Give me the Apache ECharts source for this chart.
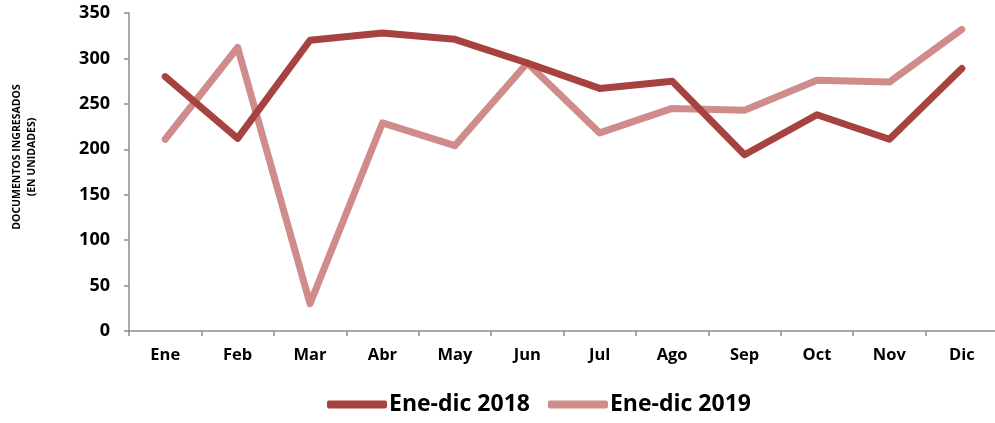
<!DOCTYPE html>
<html lang="es">
<head>
<meta charset="UTF-8">
<title>Documentos ingresados</title>
<script src="https://cdn.jsdelivr.net/npm/echarts@6/dist/echarts.min.js"></script>
<style>
  html, body { margin: 0; padding: 0; background: #fff; }
  #chart { width: 995px; height: 423px; }
</style>
</head>
<body>
<div id="chart"></div>
<script>
// data
const months = ['Ene', 'Feb', 'Mar', 'Abr', 'May', 'Jun', 'Jul', 'Ago', 'Sep', 'Oct', 'Nov', 'Dic'];
const docs2018 = [280, 212, 320, 328, 321, 295, 267, 275, 194, 238, 211, 289];
const docs2019 = [211, 312, 30, 229, 204, 295, 218, 245, 243, 276, 274, 332];

const font = '"Open Sans", "Noto Sans", sans-serif';
const axisGray = '#8c8c8c';

const chart = echarts.init(document.getElementById('chart'));

chart.setOption({
    animation: false,
    textStyle: { fontFamily: font },
    grid: { left: 129, top: 13, width: 869, height: 318, containLabel: false, outerBoundsMode: 'none' },
    legend: {
        bottom: 2,
        left: 322,
        itemWidth: 60,
        itemHeight: 8,
        itemGap: 18,
        icon: 'roundRect',
        textStyle: { fontSize: 23, fontWeight: 'bold', color: '#000', fontFamily: font, padding: [0, 0, 0, -3] },
        data: ['Ene-dic 2018', 'Ene-dic 2019']
    },
    graphic: [{
        type: 'text',
        x: 25,
        y: 157,
        rotation: Math.PI / 2,
        style: {
            text: 'DOCUMENTOS INGRESADOS\n(EN UNIDADES)',
            fontSize: 10.5,
            fontWeight: 'bold',
            fontFamily: font,
            fill: '#000',
            lineHeight: 15,
            align: 'center',
            verticalAlign: 'middle'
        }
    }],
    xAxis: {
        type: 'category',
        data: months,
        boundaryGap: true,
        axisLine: { lineStyle: { color: axisGray, width: 1.5 } },
        axisTick: { show: true, length: 5, lineStyle: { color: axisGray, width: 1.5 } },
        axisLabel: { fontSize: 16.5, fontWeight: 'bold', color: '#000', margin: 16 }
    },
    yAxis: {
        type: 'value',
        min: 0,
        max: 350,
        interval: 50,
        axisLine: { show: true, lineStyle: { color: axisGray, width: 1.5 } },
        axisTick: { show: true, length: 5, lineStyle: { color: axisGray, width: 1.5 } },
        splitLine: { show: false },
        axisLabel: { fontSize: 18, fontWeight: 'bold', color: '#000', margin: 19 }
    },
    series: [
        {
            name: 'Ene-dic 2018',
            type: 'line',
            data: docs2018,
            symbol: 'none',
            color: '#a6423f',
            lineStyle: { width: 7, cap: 'round', join: 'round', color: '#a6423f' },
            z: 3
        },
        {
            name: 'Ene-dic 2019',
            type: 'line',
            data: docs2019,
            symbol: 'none',
            color: '#d08b8b',
            lineStyle: { width: 7, cap: 'round', join: 'round', color: '#d08b8b' },
            z: 2
        }
    ]
});
</script>
</body>
</html>
